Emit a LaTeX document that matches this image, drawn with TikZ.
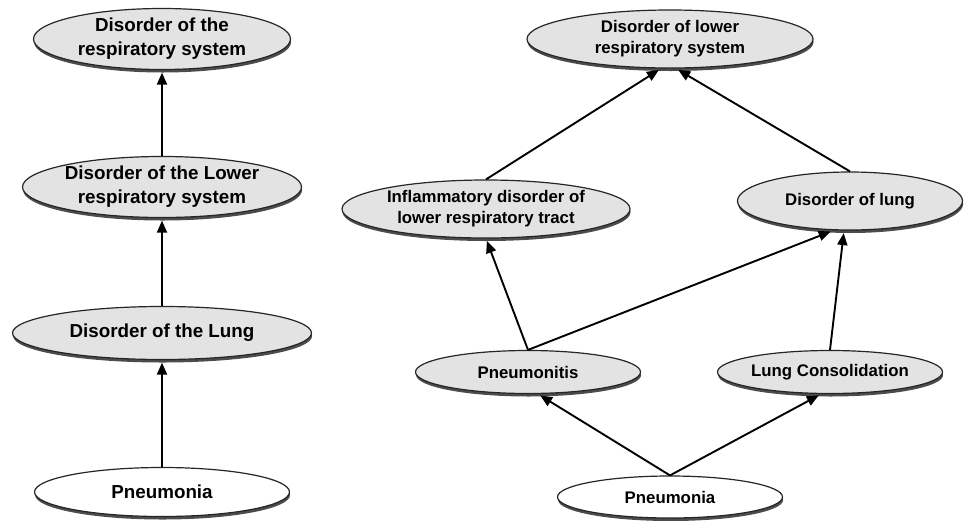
\documentclass[tikz,border=0pt]{standalone}
\usepackage{fontspec}
\setmainfont{Liberation Sans}
\usetikzlibrary{shapes.geometric,shadows,arrows.meta}
\tikzset{
  onto/.style={ellipse, draw=black!85, line width=1.2pt, inner sep=0pt, align=center,
    fill=black!11, drop shadow={shadow xshift=0.6pt, shadow yshift=-3pt, fill=black, opacity=0.7}},
  bigtxt/.style={font=\bfseries\fontsize{18.8}{24}\selectfont},
  smalltxt/.style={font=\bfseries\fontsize{16.8}{21}\selectfont},
  leaf/.style={fill=white},
  arr/.style={line width=1.9pt, -{Triangle[length=12pt,width=10pt]}, shorten >=2.5pt}
}
\begin{document}
\begin{tikzpicture}[x=1pt,y=-1pt]
\useasboundingbox[fill=white] (0,0) rectangle (966,520);
% left column
\node[onto,bigtxt,minimum width=257,minimum height=61] (lresp) at (162,39) {Disorder of the\\respiratory system};
\node[onto,bigtxt,minimum width=279,minimum height=61] (llower) at (162,187) {Disorder of the Lower\\respiratory system};
\node[onto,bigtxt,minimum width=299,minimum height=53] (llung) at (162,333) {Disorder of the Lung};
\node[onto,bigtxt,leaf,minimum width=255,minimum height=49] (lpneu) at (162,492) {Pneumonia};
\draw[arr] (lpneu.north) -- (llung.south);
\draw[arr] (llung.north) -- (llower.south);
\draw[arr] (llower.north) -- (lresp.south);
% right graph
\node[onto,smalltxt,minimum width=286,minimum height=58] (rtop) at (670,39) {Disorder of lower\\respiratory system};
\node[onto,smalltxt,minimum width=288,minimum height=58] (rinf) at (486,209) {Inflammatory disorder of\\lower respiratory tract};
\node[onto,smalltxt,minimum width=225,minimum height=58] (rlung) at (850,201) {Disorder of lung};
\node[onto,smalltxt,minimum width=225,minimum height=43] (ritis) at (528,372) {Pneumonitis};
\node[onto,smalltxt,minimum width=225,minimum height=43] (rcons) at (830,372) {Lung Consolidation};
\node[onto,smalltxt,leaf,minimum width=225,minimum height=42] (rpneu) at (670,497) {Pneumonia};
\draw[arr] (rinf.north) -- ([xshift=-9pt]rtop.south);
\draw[arr] (rlung.north) -- ([xshift=6pt]rtop.south);
\draw[arr] (ritis.north) -- (rinf.south);
\draw[arr] (ritis.north) -- ([xshift=-17pt]rlung.south);
\draw[arr] (rcons.north) -- ([xshift=-6pt]rlung.south);
\draw[arr] (rpneu.north) -- ([xshift=10pt]ritis.south);
\draw[arr] (rpneu.north) -- ([xshift=-9pt]rcons.south);
\end{tikzpicture}
\end{document}
